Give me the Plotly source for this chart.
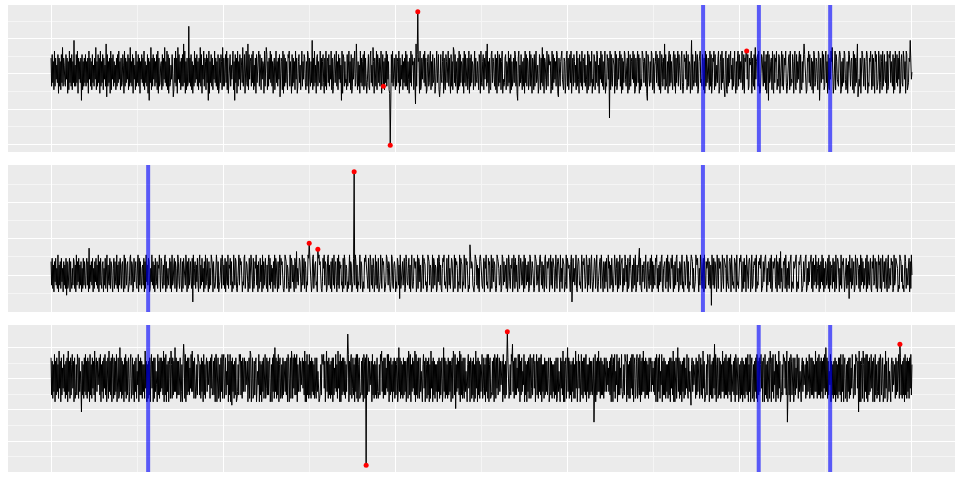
import numpy as np
import plotly.graph_objects as go
from plotly.subplots import make_subplots

X_MAX = 5000

# noise, one char per step: 'k' is the centre line, each letter
# above/below it is +/-0.2; L / H mark a deep dip / tall spike
LEVEL_STEP = 0.2
EXTRA_LEVELS = {"L": -2.6, "H": 2.6}

SERIES_1 = "".join([
    "ogphnfqgoimhpeognfphrgomhgpioenfqhogpfnhtgmgphqeoinhocpfngoh",
    "pgnhoeqiognfphmgoirfngphoeqgnhpfoimgsdpgnhoeqfoipgnhmfogphqi",
    "nfoghpmeqgohnipfogrhngpeoimfqgnhpgoeniphogqfnhmgpeocnhrfogpi",
    "ognhpfqeoghmnfpgoirhngqfpeoghmipgdfohqgoeriphnfogpgshqenfogh",
    "Hhogpfnemgqhoipgnfohrgpemiqgonfphocqenhpgofmiqhognfpegohpnfr",
    "gognphqfoehnpgmioqfncphoeqgnipfomhrgopenqhgsfpinogphqfmgoeph",
    "noqgphfoinmeqgorpfngoiqhpgnemofpqhngoipdhonfqepgohnifpoqgnhe",
    "pgohnfqioegnphmfoqgnipohfngqpeoignhtfogqhmeopgnihqfognpheogq",
    "fnohpgmiqfoegnphoqgnfpiohmcqepognhifpgoqhnfpegoinqghsofngmeq",
    "hognpfqgoiehnpgfoqhmgrneoigqfpnhogmqeipbnfohqgpinfeogphqgnoi",
    "fpgonhqeogmipfnhogqgpfnieohqgpmnfogbsgphnoeqfgoinphqgoefnpgh",
    "oqfngphioegmqhnpfdgpihnqeogfpnhmqgoiepgnfrqhpgnieofqgphnmgoe",
    "qhpgnofiqeogphnmfpqgoihngfpoeqhgnpfoimqgshneogfpqhonigpfoeqn",
    "gphofnqeighopfnmgqhoepfngiohqpgnecoqgmhpifngoeqhpgonfiqgpheo",
    "nfpgoqhimegpnfohrgpeonifqhgpomnegqfphoingqpedohgnpqigfonehpq",
    "gofnphqeiogpnhmfqgoiephngqfonhpgmieqfpognhqeigpofnhqpgmeoiqh",
    "pgnfoqehgpnioLqfphgonmeqgpfhoinqgpeofnhqpigmoeqfhpgnoiqhpefo",
    "gnqhpeofigqpnhomgqecpoignhqpfgoemnqhpigofqehpngoisfpghneoqgp",
    "hnifoqgpeohnqgpmifoqhegpnoiqfhpgnmeotfpignhqogpefnoqhigpnfoe",
    "qgphnoifqgpehonqfpgimhoqegnpfqhoigdpqfeogphnqimfogpqhenfoqgp",
    "inhoqfgpeonqhipfgomnqeohgpfrinopgqhefnpoigqhnfpeoqcphinofqge",
    "phonqfigpoehnqgpfiomqhegnopfqgihpneoqgfphnioqepgfnhosplgefon",
    "qhpgiofneqpghonifqpcgohnqipfgoqhnepgfoiqnrhegoqfpnihgoqpefng",
    "ohqpifgneoqphgnoifqepgohnsdfigoenqphgoifnqpehgonqifpgoheqnpf",
    "giqoehpnfqgopihneqfgpoqhnigpeofqnhpgoiqefnphgqoineqpfghontpi",
    "k",
])
SERIES_2 = "".join([
    "ohpgnfoiphmgqfnhogpimfohngpeoghnpfoigmhpognfqhoipgnhofmgphoi",
    "gnphofsgniohpfmgoiphngqfohpignofmhpgoqfnihpgonhfmpgoihqgnfoh",
    "pignohfqgpmhnofgipqhonfgpimohgnqfphoigmnhpfogqinhpofgmiqhogn",
    "fphiognmqhfpoignhpqfogimhnpgofqhinpgomfhqoignphfogpmihqnfogp",
    "hnoigpcqhmogniphfoqgnhpimfogqhnpifogmhqpnfoighpqngofhimpgqoh",
    "ngpfoihqgnmphofigqnhpogfimqhpnogfihpqgmonhfipgoqnhfpgiomqhnf",
    "oghpinfqgohmpignfoqhpgnimfohqgpnifogmqhpnoigfhqpognmifhqgpoi",
    "nhfpogrimhnpogfiqhnpgomfihqpgnoifhpqgmnohifgpqnohgfipmqhonfg",
    "pqhnigofpmhqgnoifphqgomnhifpgqohnmfigpqhonfgipmhqognfihpqgon",
    "hfigpoqnmhgpifqohngpmfiqhognpfhiqmgpnohfgiqpmhongfiqphgnomfi",
    "gpohndqgimohnpfgqoihmpgnfoqhgipnmofhqgpoinfhmqgponhifgqpohnm",
    "fiqgpohnmfgpiqohngfmpoqhignpfoqhmgnpoifhqgpnomfihqgponfihqmg",
    "pnoifhgtpmonhgfiqpohngmfpqoihgnpfomqhigpnofhqgmpionhfgqpomhi",
    "nfgqphoimngpfhqoignmpfhqogpinhfoqgmpnhiofqgpmhniofgqphnomifg",
    "qpohingfpqmhognifpqhgomnpfiqhogpnmfiqhgopnhfqimgponfhiqgpomn",
    "hfoqcnpimhoqgfnpohigmqfonphgiqofnhpmgoqifhnpogmqhfinopgqmhfo",
    "ngoiphfqmognhpifgoqnhmpfogiqhnopfgmhqoinfpghoqmifngpohqfgnim",
    "oshpgfnimogpqhfnoigmphqfognihpoqgmfnhoipqgfmnohgpiqfonhgpmqi",
    "fngohpqimfgonhpqgifomhnqpgofihnqpogmfhiqonpgfmhqoignpfqhgomn",
    "phoignbqmhpgonifqhgpmonfiqhgponmfqihgopnfqmhigponfqhigmpoqnf",
    "hogpinfqmhgopnfiqghmonpfqgihonpmqfghoinpqgfmhonipgqfhomnpigq",
    "fonhpgrimfhonpgqifmhognpqfihgomnpqfhigonpqmfghoinpqfgmhoinpq",
    "gofphniqgomhpfngoiqhpfmgonhipgqfohmngpiofhqgnpoifmhqgonphfio",
    "pgnhodqimgphnofgqihpomgnfqhpiogmhnpfqgoihnpgfomqhipngofhq",
    "nogpfhqmiognphfoqgimhpnofgqhiponmfhgqpoinghfpqogmihnpfogq",
    "k",
])
SERIES_3 = "".join([
    "qfpeogrdpfqgoeshpdqfnhrgoepfqdsgpeqforhpdqegofrpeqgmiapfoeqg",
    "rfpeqgpdrfoeqhpfsdoqgpinqfrdogpeqhrfpdoqesgpfqdroeqfpgrdoqef",
    "tgqepfodqgrepfoqdgprehqfodpgqemirdpfqfpeogoeshpdoepfqdorhpdq",
    "eqgmidrfpeqgqhpfsdqfrdogpdoqesoeqfpgtgqepfpfoqdgodpuqerdpfqg",
    "qfnhrgsgpeqfegofrppfoeqgpdrfoeoqgpinpeqhrfgpfqdrrdoqefodqgre",
    "prehqfmirdpfrdpcqgoepfqdegofrprfpeqgoqgpinpdoqesrdoqefpfoqdg",
    "mirdpfodpgqeprehqfpfoqdgodqgretgqepfrdoqefoeqfpggpfqdrpdoqes",
    "peqhrfqfrdogoqgpinqhpfsdpdrfoerfpeqgpfoeqgeqgmidegofrporhpdq",
    "sgpeqfoepfqdqfnhrgoeshpdrdpfqgqfpeogmHrdpfprehqfodqgrerdoqef",
    "gpfqdrpeqhrfoqgpinpdrfoepfoeqgegofrpsgpeqfqfnhrgrdpfqgodpgqe",
    "pfoqdgtgqepfoeqfpgpdoqesqfrdogqhpfsdrfpeqgeqgmidorhpdqoepfqd",
    "oeshpdqfpeogodpgqepfoqdgtgqepfoeqfpgpdoqesqfrbogqhpfsdrfpeqg",
    "eqgmidorhpdqoepfqdoeshpdqfpeogprehqfodqgrerdoqefgpfqdrpeqhrf",
    "oqgpinpdrfoepfoeqgegofrpugpeqfqfnhrgrdpfqgmirdpfodpgqeprehqf",
    "orhpdqrfpeqgqfrdogoeqfpgpfoqdgqfpeogoepfqdeqgmidqhpfsdpdoqes",
    "tgqepfodpgqeoeshpdorhpdqrfpeqgqfrdogoeqfpgpfoqLgrdpfqgsgpeqf",
    "pfoeqgoqgpingpfqdrodqgremirdpfqfnhrgegofrppdrfoepeqhrfrdoqef",
    "prehqfrdpfqgsgpeqfpfoeqgoqgpingpfqdrodqgremirdpfqfpeogoepfqd",
    "qhpfsdpdoqestgqepfodpgqeqfnhrgeqgmicoqgpinoeqfpgprehqfoeshpd",
    "egofrppdrfoepeqhufrdoqefqfpeogsgpeqfrfpeqgqfrdoggpfqdrpfoqdg",
    "oepfqdpfoeqgqfrdogrdoqefodpgqerdpfqgorhpdqpdrfoepdoqesodqgre",
    "mirdpfoeshpdegofrpqhpfsLgpfqdrpfoqdgqfnhrgeqgmidoqgpinoeqfpg",
    "prehqfqfpeogsgpeqfrfpeqgpeqhrftgqepfmirdpfoepfqdpfoeqgqfrdog",
    "rdoqefodpgqeqfnhrgegofrpqhpasdpdoqesodqgrerdpfqgorhpdqpdrfoe",
    "gpfqdrpfoqdgoeshpdeqgmidoqgpinoeqfpgprehqfoepfqdrfpeqgpeqhrf",
    "o",
])

# flagged outliers (red points), part of each series
OUTLIERS_1_X = [1930, 1970, 2130, 4040]
OUTLIERS_1_Y = [-0.8, -4.15, 3.43, 1.2]
OUTLIERS_2_X = [1500, 1550, 1760]
OUTLIERS_2_Y = [1.89, 1.53, 6.15]
OUTLIERS_3_X = [1830, 2650, 4930]
OUTLIERS_3_Y = [-5.15, 2.74, 2.0]

# detected change points (blue lines)
CHANGES_1 = [3787, 4111, 4525]
CHANGES_2 = [564, 3786]
CHANGES_3 = [564, 4110, 4525]

X_MAJOR = [0, 1000, 2000, 3000, 4000, 5000]
X_MINOR = [500, 1500, 2500, 3500, 4500]
Y_MAJOR = [[-4.1, -2.1, -0.1, 1.9], [0, 2.16, 4.32], [-3.72, -1.88, -0.04, 1.8]]
Y_MINOR = [[-3.1, -1.1, 0.9, 2.9], [-1.08, 1.08, 3.24, 5.4], [-4.64, -2.8, -0.96, 0.88]]


def decode(chars: str) -> np.ndarray:
    return np.array([EXTRA_LEVELS[c] if c in EXTRA_LEVELS else (ord(c) - ord("k")) * LEVEL_STEP for c in chars])


def build_series(chars: str, out_x: list, out_y: list):
    y = decode(chars)
    x = np.linspace(0, X_MAX, len(y))
    idx = [int(round(v / X_MAX * (len(y) - 1))) for v in out_x]
    for i, v in zip(idx, out_y):
        y[i] = v
    return x, y, idx


panels = [
    (SERIES_1, OUTLIERS_1_X, OUTLIERS_1_Y, CHANGES_1),
    (SERIES_2, OUTLIERS_2_X, OUTLIERS_2_Y, CHANGES_2),
    (SERIES_3, OUTLIERS_3_X, OUTLIERS_3_Y, CHANGES_3),
]

fig = make_subplots(rows=3, cols=1, vertical_spacing=13 / 467)

for row, (chars, ox, oy, changes) in enumerate(panels, start=1):
    x, y, idx = build_series(chars, ox, oy)
    fig.add_trace(
        go.Scatter(x=x, y=y, mode="lines", line={"color": "black", "width": 1}, showlegend=False, hoverinfo="skip"),
        row=row,
        col=1,
    )
    fig.add_trace(
        go.Scatter(x=x[idx], y=y[idx], mode="markers", marker={"color": "red", "size": 5}, showlegend=False),
        row=row,
        col=1,
    )
    for c in changes:
        fig.add_vline(x=c, row=row, col=1, line_color="rgba(0,0,255,0.62)", line_width=4)

    lo, hi = y.min(), y.max()
    pad = 0.05 * (hi - lo)
    fig.update_yaxes(
        range=[lo - pad, hi + pad],
        tickmode="array",
        tickvals=Y_MAJOR[row - 1],
        minor={"tickmode": "array", "tickvals": Y_MINOR[row - 1], "showgrid": True, "gridcolor": "#F5F5F5", "gridwidth": 1},
        row=row,
        col=1,
    )

fig.update_xaxes(
    range=[-0.05 * X_MAX, 1.05 * X_MAX],
    tickmode="array",
    tickvals=X_MAJOR,
    minor={"tickmode": "array", "tickvals": X_MINOR, "showgrid": True, "gridcolor": "#F5F5F5", "gridwidth": 1},
    showticklabels=False,
    ticks="",
    zeroline=False,
    showgrid=True,
    gridcolor="white",
    gridwidth=1,
)
fig.update_yaxes(showticklabels=False, ticks="", zeroline=False, showgrid=True, gridcolor="white", gridwidth=1)

fig.update_layout(
    width=960,
    height=480,
    margin={"l": 8, "r": 5, "t": 5, "b": 8},
    plot_bgcolor="#EBEBEB",
    paper_bgcolor="white",
)

fig.write_html(
    "out.html",
    config={"displayModeBar": False},
    post_script="document.body.style.margin = '0';",
)
